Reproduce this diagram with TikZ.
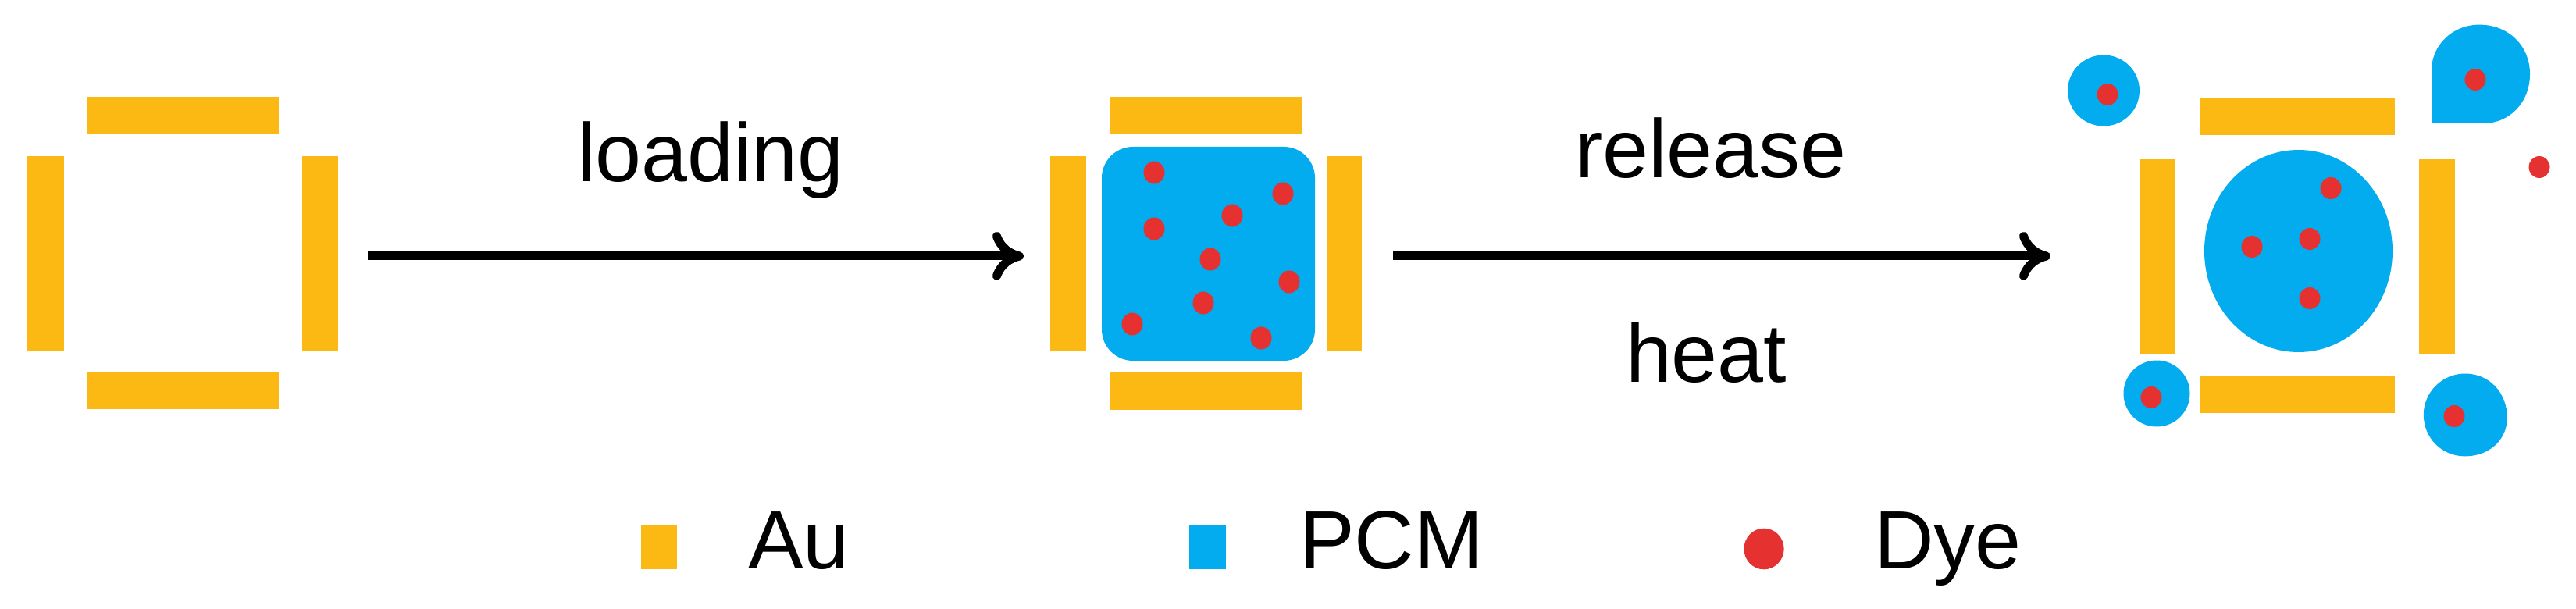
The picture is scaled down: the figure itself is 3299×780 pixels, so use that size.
\documentclass[tikz,border=0pt]{standalone}
\usepackage{fontspec}
\setmainfont{Liberation Sans}
\usetikzlibrary{arrows.meta}
\definecolor{au}{HTML}{FDB913}
\definecolor{pcm}{HTML}{03ACEE}
\definecolor{dye}{HTML}{E5312F}
\tikzset{
  aubar/.style={fill=au},
  pcmblob/.style={fill=pcm},
  dyedot/.style={fill=dye},
  flow/.style={draw=black,line width=5.5pt,-{Computer Modern Rightarrow[length=20pt,width=31pt]}},
  lab/.style={anchor=base west,inner sep=0pt,outer sep=0pt,text=black,font=\fontsize{53}{60}\selectfont}
}
\begin{document}
\begin{tikzpicture}[x=0.5pt,y=-0.5pt]
\useasboundingbox[fill=white] (0,0) rectangle (3299,780);
% left frame
\fill[aubar] (112,124) rectangle (357,172);
\fill[aubar] (112,477) rectangle (357,524);
\fill[aubar] (34,200) rectangle (82,449);
\fill[aubar] (387,200) rectangle (433,449);
% middle frame
\fill[aubar] (1421,124) rectangle (1668,172);
\fill[aubar] (1421,477) rectangle (1668,525);
\fill[aubar] (1345,200) rectangle (1391,449);
\fill[aubar] (1699,200) rectangle (1744,449);
\fill[pcmblob,rounded corners=20pt] (1411,188) rectangle (1684,462);
\foreach \px/\py in {1478/221,1643/248,1578/276,1478/293,1550/332,1651/361,1541/388,1450/415,1615/433}
  \fill[dyedot] (\px,\py) ellipse [x radius=13.5,y radius=14.5];
% right frame
\fill[aubar] (2818,126) rectangle (3067,173);
\fill[aubar] (2818,482) rectangle (3067,529);
\fill[aubar] (2741,204) rectangle (2786,453);
\fill[aubar] (3098,204) rectangle (3144,453);
\fill[pcmblob] (2943.5,321.5) ellipse [x radius=120.5,y radius=129.5];
\fill[pcmblob] (2694,116) ellipse [x radius=46,y radius=45.5];
\fill[pcmblob] (2762,504) ellipse [x radius=42.5,y radius=42.5];
\fill[pcmblob] (3114,158) -- (3114,87) .. controls (3116,55) and (3143,31.6) .. (3175,31.6)
  .. controls (3212,31.6) and (3240,58) .. (3240,95)
  .. controls (3240,130) and (3215,158) .. (3180,158) -- cycle;
\fill[pcmblob] (3157,478.5) .. controls (3188,478.5) and (3210.8,503) .. (3210.8,535)
  .. controls (3210.8,564) and (3187,584.4) .. (3157,584.4)
  .. controls (3127,584.4) and (3103.8,561) .. (3103.8,531)
  .. controls (3103.8,503) and (3127,478.5) .. (3157,478.5) -- cycle;
\foreach \px/\py in {2985/241,2884/316,2958/306,2958/382,2699/121,3170/102,3252/214,2755/509,3143/533}
  \fill[dyedot] (\px,\py) ellipse [x radius=13.5,y radius=14];
% connectors
\coordinate (a1s) at (471,328);
\coordinate (a1e) at (1311,328);
\coordinate (a2s) at (1784,328);
\coordinate (a2e) at (2626,328);
\draw[flow] (a1s) -- (a1e);
\draw[flow] (a2s) -- (a2e);
% labels
\node[lab] (loading) at (739,233) {loading};
\node[lab] (release) at (2017,228) {release};
\node[lab] (heat) at (2082,489) {heat};
% legend
\fill[aubar] (821,673) rectangle (867,729);
\fill[pcmblob] (1523,673) rectangle (1570,729);
\fill[dyedot] (2259,703) ellipse [x radius=25.6,y radius=26.3];
\node[lab] (au) at (958,728) {Au};
\node[lab] (pcmlab) at (1664,728) {PCM};
\node[lab] (dyelab) at (2400,728) {Dye};
\end{tikzpicture}
\end{document}
